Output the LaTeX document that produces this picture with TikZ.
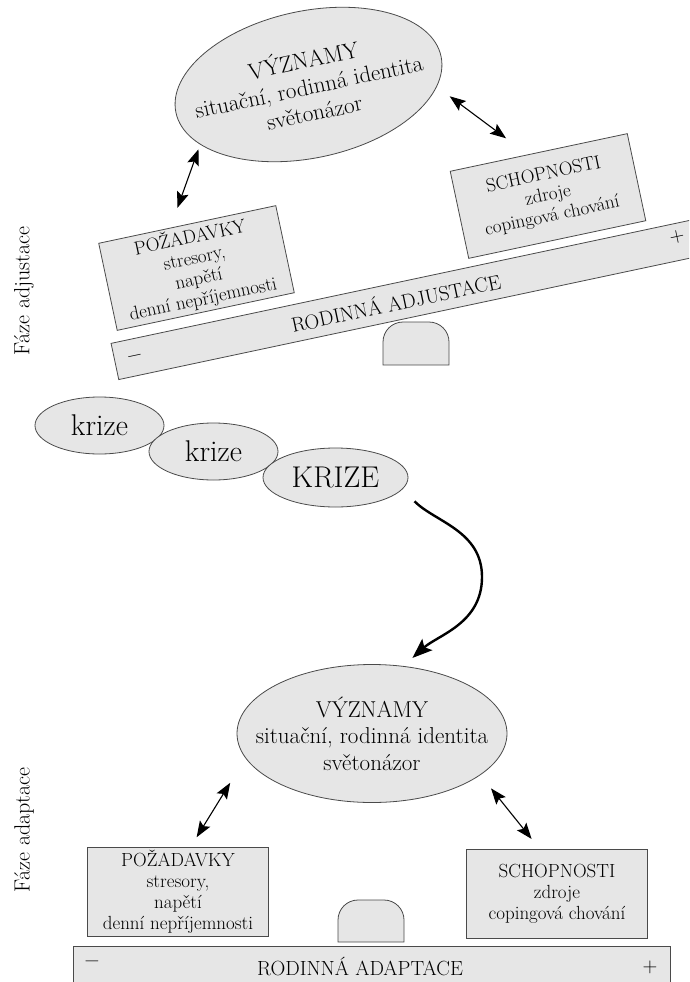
\documentclass[tikz,border=0pt]{standalone}
\usepackage{fontspec}
\usetikzlibrary{shapes.geometric,arrows.meta}
\definecolor{panelgray}{HTML}{E6E6E6}
\definecolor{edgegray}{HTML}{4A4A4A}
\tikzset{
  mainbox/.style={rectangle, draw=edgegray, line width=0.8pt, fill=panelgray, minimum width=181pt, minimum height=89pt, inner sep=2pt, align=center, font=\fontsize{19}{21}\selectfont},
  oval/.style={ellipse, draw=edgegray, line width=0.8pt, fill=panelgray, inner xsep=-80pt, inner ysep=-28pt, align=center, font=\fontsize{23}{26.5}\selectfont},
  crisis/.style={ellipse, draw=edgegray, line width=0.8pt, fill=panelgray, inner sep=0pt, font=\fontsize{30}{32}\selectfont},
  beambar/.style={rectangle, draw=edgegray, line width=0.8pt, fill=panelgray, minimum width=597pt, minimum height=37pt, inner sep=0pt},
  beamtext/.style={inner sep=0pt, font=\fontsize{20.5}{23}\selectfont},
  fulcrum/.style={draw=edgegray, line width=0.8pt, fill=panelgray},
  sidelabel/.style={rotate=90, inner sep=0pt, font=\fontsize{22}{25}\selectfont},
  twoway/.style={{Stealth[length=16pt,width=12pt,inset=3pt]}-{Stealth[length=16pt,width=12pt,inset=3pt]}, line width=1.1pt},
  bigarrow/.style={-{Stealth[length=20pt,width=15pt,inset=4pt]}, line width=2.4pt}
}

\begin{document}
\begin{tikzpicture}[x=1pt, y=-1pt]%
\useasboundingbox (0,0) rectangle (689,982);%
\clip (0,0) rectangle (689,982);%
% faze adjustace
\node[sidelabel] (fazeadj) at (24,291) {Fáze adjustace};%
\draw[fulcrum] (383,365) -- (383,342) arc[start angle=180, end angle=90, radius=20pt] -- (429,322) arc[start angle=90, end angle=0, radius=20pt] -- (449,365) -- cycle;%
\node[beambar, rotate=12] (beam1) at (406.9,299.4) {};%
\node[beamtext, rotate=12] (adjtext) at (395.6,301.8) {RODINNÁ ADJUSTACE};%
\node[beamtext, rotate=12] (minus1) at (135,358) {−};%
\node[beamtext, rotate=12] (plus1) at (677,237) {+};%
\node[mainbox, rotate=12] (pozad1) at (196.5,268) {POŽADAVKY\\stresory,\\napětí\\denní nepříjemnosti};%
\node[mainbox, rotate=12] (schop1) at (548,196) {SCHOPNOSTI\\zdroje\\copingová chování};%
\node[oval, rotate=12, minimum width=271pt, minimum height=147pt] (vyz1) at (308.5,84.5) {VÝZNAMY\\situační, rodinná identita\\světonázor};%
\draw[twoway, shorten <=21pt, shorten >=5pt] (pozad1.111) -- (vyz1.197);%
\draw[twoway, shorten <=16pt, shorten >=27pt] (vyz1.347) -- (schop1.104);%
% krize
\node[crisis, minimum width=129pt, minimum height=57pt] (krize1) at (99.5,425.5) {krize};%
\node[crisis, minimum width=129pt, minimum height=57pt] (krize2) at (213.5,451.5) {krize};%
\node[crisis, minimum width=145pt, minimum height=59pt] (krize3) at (335.5,477.5) {KRIZE};%
\coordinate (bend) at (482,577);%
% faze adaptace
\node[sidelabel] (fazeadapt) at (24,830) {Fáze adaptace};%
\node[oval, minimum width=270pt, minimum height=138pt] (vyz2) at (372,733.5) {VÝZNAMY\\situační, rodinná identita\\světonázor};%
\node[mainbox] (pozad2) at (178,891.5) {POŽADAVKY\\stresory,\\napětí\\denní nepříjemnosti};%
\node[mainbox] (schop2) at (557,894) {SCHOPNOSTI\\zdroje\\copingová chování};%
\draw[fulcrum] (338,942) -- (338,920) arc[start angle=180, end angle=90, radius=20pt] -- (384,900) arc[start angle=90, end angle=0, radius=20pt] -- (404,942) -- cycle;%
\node[beambar, minimum height=38pt] (beam2) at (371.5,965) {};%
\node[beamtext] (adapttext) at (360,966) {RODINNÁ ADAPTACE};%
\node[beamtext] (minus2) at (92,964) {−};%
\node[beamtext] (plus2) at (650,967) {+};%
\draw[twoway, shorten <=11pt, shorten >=29pt] (pozad2.74) -- (vyz2.191);%
\draw[twoway, shorten <=17pt, shorten >=13pt] (vyz2.339) -- (schop2.111);%
\draw[bigarrow, shorten <=17pt, shorten >=12pt] (krize3.350) to[out=-45, in=90] (bend) to[out=-90, in=42] (vyz2.65);%
\end{tikzpicture}
\end{document}
